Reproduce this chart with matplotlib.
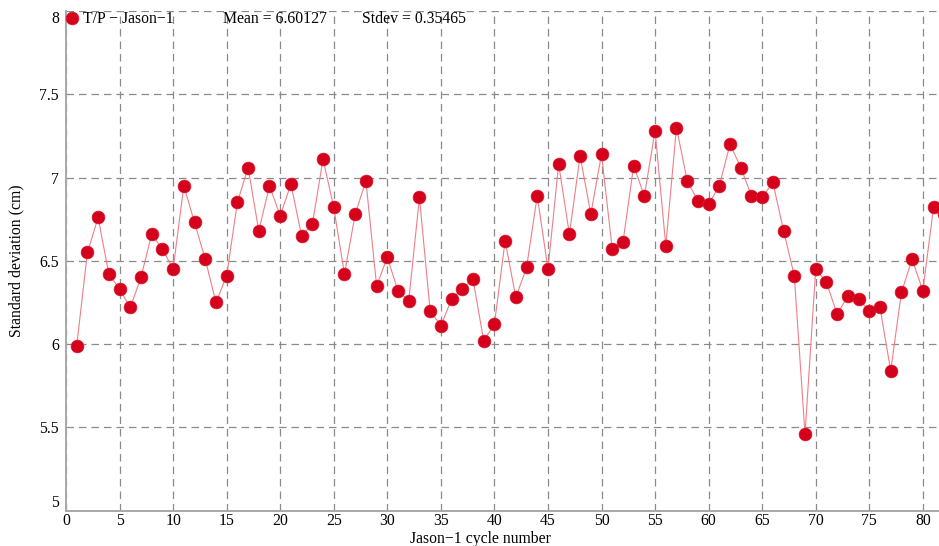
import matplotlib
matplotlib.use("Agg")
import matplotlib.pyplot as plt

cycles = list(range(1, 83))
stdev_cm = [5.99, 6.55, 6.76, 6.42, 6.33, 6.22, 6.40, 6.66, 6.57, 6.45,
            6.95, 6.73, 6.51, 6.25, 6.41, 6.85, 7.06, 6.68, 6.95, 6.77,
            6.96, 6.65, 6.72, 7.11, 6.82, 6.42, 6.78, 6.98, 6.35, 6.52,
            6.32, 6.26, 6.88, 6.20, 6.11, 6.27, 6.33, 6.39, 6.02, 6.12,
            6.62, 6.28, 6.46, 6.89, 6.45, 7.08, 6.66, 7.13, 6.78, 7.14,
            6.57, 6.61, 7.07, 6.89, 7.28, 6.59, 7.30, 6.98, 6.86, 6.84,
            6.95, 7.20, 7.06, 6.89, 6.88, 6.97, 6.68, 6.41, 5.46, 6.45,
            6.37, 6.18, 6.29, 6.27, 6.20, 6.22, 5.84, 6.31, 6.51, 6.32,
            6.82, 6.78]
xticks = [0, 5, 10, 15, 20, 25, 30, 35, 40, 45, 50, 55, 60, 65, 70, 75, 80]
yticks = [5, 5.5, 6, 6.5, 7, 7.5, 8]
ytick_labels = ["5", "5.5", "6", "6.5", "7", "7.5", "8"]
series_label = "T/P \u2212 Jason\u22121"
mean_text = "Mean = 6.60127"
stdev_text = "Stdev = 0.35465"

plt.rcParams['font.family'] = ['Liberation Serif', 'DejaVu Serif']
FS = 11.3

W, H = 939, 546
fig = plt.figure(figsize=(W / 100, H / 100), dpi=100)
ax = fig.add_axes([66 / W, 1 - 510.7 / H, 1 - 66 / W, (510.7 - 10.9) / H])

red = '#D5001C'
ax.plot(cycles, stdev_cm, '-', color='#EE7F88', lw=0.8, zorder=3, clip_on=False)
ax.plot(cycles, stdev_cm, 'o', color=red, ms=9.2, mec='#D9182C', mew=0.5,
        zorder=4, clip_on=False, label=series_label)

ax.set_xlim(0, 81.51)
ax.set_ylim(5, 8)
ax.set_xticks(xticks)
ax.set_xticklabels([str(t) for t in xticks])
ax.set_yticks(yticks)
ax.set_yticklabels(ytick_labels)

ax.grid(True, color='#8A8A8A', lw=0.9, linestyle=(0, (6, 4)))
ax.set_axisbelow(True)
for s in ('top', 'right'):
    ax.spines[s].set_visible(False)
for s in ('left', 'bottom'):
    ax.spines[s].set_color('#A8A8A8')
    ax.spines[s].set_linewidth(1.4)

ax.tick_params(length=0, labelsize=FS, colors='black')
ax.tick_params(axis='y', pad=5)
ax.tick_params(axis='x', pad=2)
ylabs = ax.get_yticklabels()
ylabs[0].set_va('bottom')
ylabs[-1].set_va('top')

ax.set_xlabel("Jason\u22121 cycle number", fontsize=FS)
ax.xaxis.set_label_coords((480 - 66) / (W - 66), -0.04, transform=ax.transAxes)
ax.xaxis.label.set_va('top')
ax.set_ylabel("Standard deviation (cm)", fontsize=FS)
ax.yaxis.set_label_coords(-0.048, 0.5)

leg = ax.legend(loc='upper left', bbox_to_anchor=(67 / W, 1 - 11 / H),
                bbox_transform=fig.transFigure, frameon=False,
                handlelength=0.7, handletextpad=0.3, borderpad=0,
                borderaxespad=0, fontsize=FS, markerscale=1.0)

fig.text(223 / W, 1 - 19 / H, mean_text, fontsize=FS, va='center', ha='left')
fig.text(362 / W, 1 - 19 / H, stdev_text, fontsize=FS, va='center', ha='left')

fig.savefig("out.png", dpi=100)
